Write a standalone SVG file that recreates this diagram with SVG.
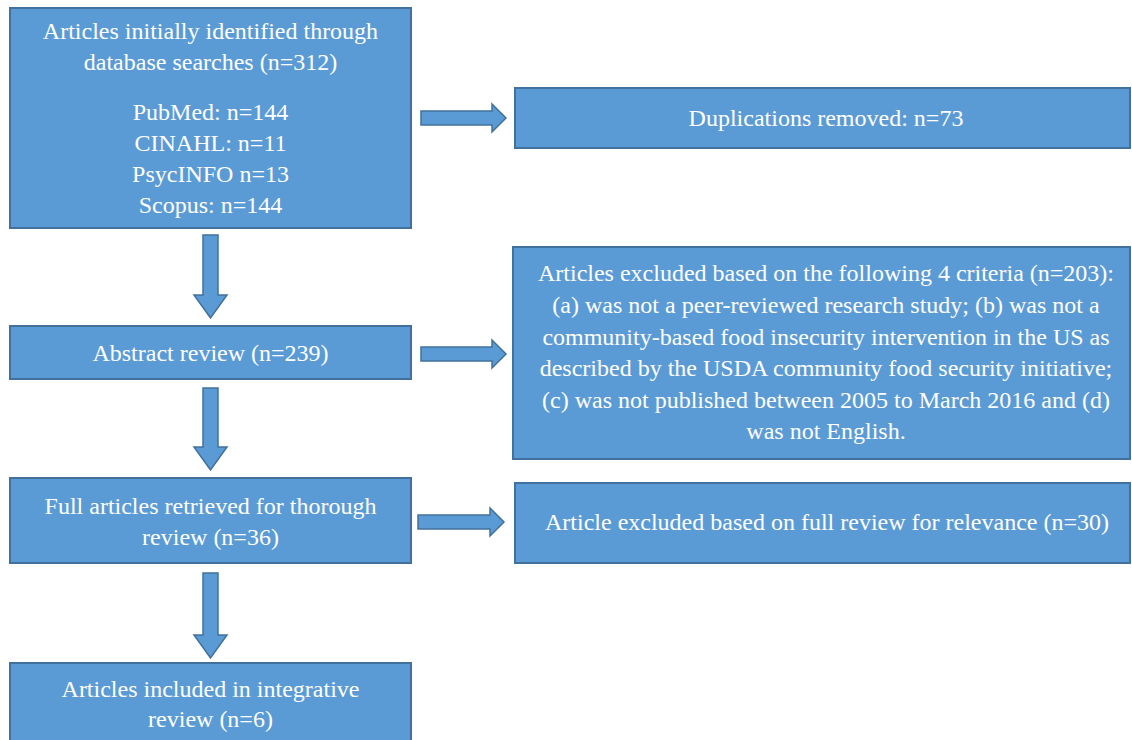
<svg xmlns="http://www.w3.org/2000/svg" width="1132" height="740" viewBox="0 0 1132 740">
  <style>
    .box { fill: #5B9BD5; stroke: #41719C; stroke-width: 2; }
    .arrow { fill: #5B9BD5; stroke: #41719C; stroke-width: 1.5; stroke-linejoin: miter; }
    text { font-family: "Liberation Serif", "Times New Roman", serif; font-size: 24px; fill: #ffffff; text-anchor: middle; }
  </style>
  <rect width="1132" height="740" fill="#ffffff"/>

  <g id="connectors">
    <!-- vertical block arrows -->
    <path class="arrow" d="M203,235 H218 V295 H227 L210.5,318 L194,295 H203 Z"/>
    <path class="arrow" d="M203,388 H218 V447 H227 L210.5,470 L194,447 H203 Z"/>
    <path class="arrow" d="M203,573 H218 V635 H227 L210.5,658 L194,635 H203 Z"/>
    <!-- horizontal block arrows -->
    <path class="arrow" d="M421,111 H492 V104 L506,118 L492,132 V125 H421 Z"/>
    <path class="arrow" d="M421,347 H492 V340 L506,354 L492,368 V361 H421 Z"/>
    <path class="arrow" d="M418,515 H490 V508 L504,522 L490,536 V529 H418 Z"/>
  </g>

  <g id="node-identified">
    <rect class="box" x="10" y="8" width="401" height="220"/>
    <text x="210.5" y="39">Articles initially identified through</text>
    <text x="210.5" y="70">database searches (n=312)</text>
    <text x="210.5" y="120">PubMed: n=144</text>
    <text x="210.5" y="151">CINAHL: n=11</text>
    <text x="210.5" y="182">PsycINFO n=13</text>
    <text x="210.5" y="213">Scopus: n=144</text>
  </g>

  <g id="node-duplicates">
    <rect class="box" x="515" y="88" width="615" height="60"/>
    <text x="826" y="126">Duplications removed: n=73</text>
  </g>

  <g id="node-abstract">
    <rect class="box" x="10" y="326" width="401" height="53"/>
    <text x="210.5" y="361">Abstract review (n=239)</text>
  </g>

  <g id="node-excluded-criteria">
    <rect class="box" x="513" y="247" width="617" height="212"/>
    <text x="826" y="281">Articles excluded based on the following 4 criteria (n=203):</text>
    <text x="826" y="313">(a) was not a peer-reviewed research study; (b) was not a</text>
    <text x="826" y="345">community-based food insecurity intervention in the US as</text>
    <text x="826" y="376">described by the USDA community food security initiative;</text>
    <text x="826" y="408">(c) was not published between 2005 to March 2016 and (d)</text>
    <text x="826" y="439">was not English.</text>
  </g>

  <g id="node-full-articles">
    <rect class="box" x="10" y="478" width="401" height="85"/>
    <text x="210.5" y="514">Full articles retrieved for thorough</text>
    <text x="210.5" y="545">review (n=36)</text>
  </g>

  <g id="node-excluded-full">
    <rect class="box" x="515" y="483" width="615" height="80"/>
    <text x="827" y="530">Article excluded based on full review for relevance (n=30)</text>
  </g>

  <g id="node-included">
    <rect class="box" x="10" y="663" width="401" height="90"/>
    <text x="210.5" y="697">Articles included in integrative</text>
    <text x="210.5" y="727">review (n=6)</text>
  </g>
</svg>
